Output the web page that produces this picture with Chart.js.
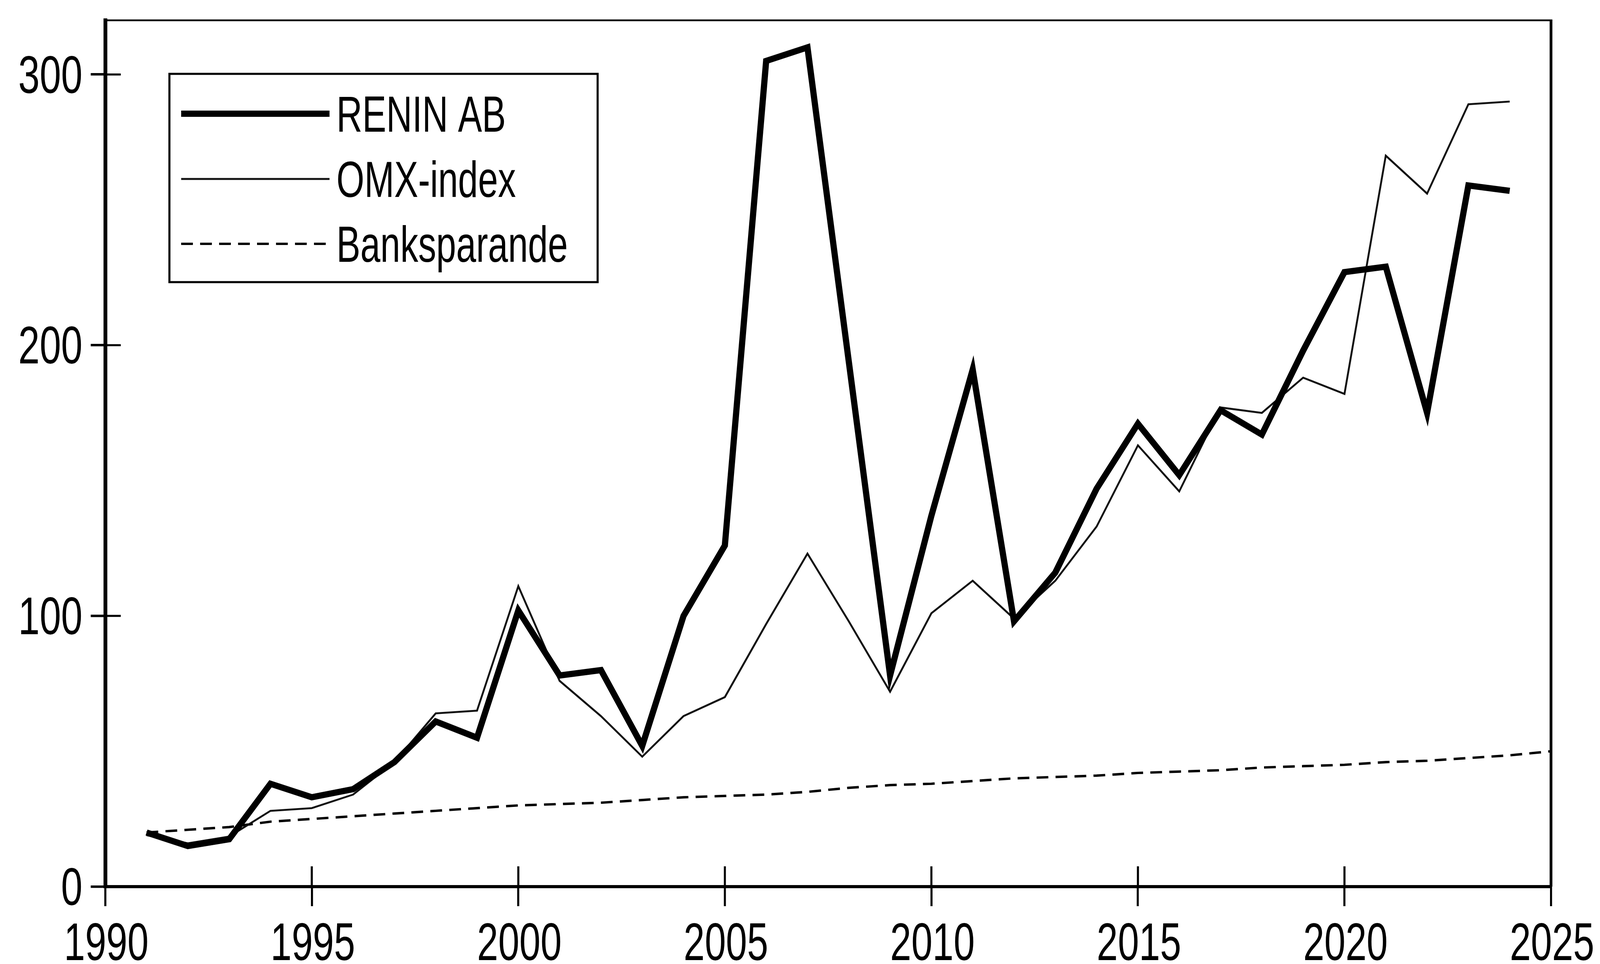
<!DOCTYPE html>
<html>
<head>
<meta charset="utf-8">
<script src="https://cdn.jsdelivr.net/npm/chart.js@4/dist/chart.umd.min.js"></script>
<style>
html,body{margin:0;padding:0;background:#fff;overflow:hidden;}
#wrap{position:absolute;left:0;top:0;width:100vw;height:100vh;}
</style>
</head>
<body>
<div id="wrap"><canvas id="c"></canvas></div>
<script>
// ---- data ----
const seriesYears = [1991,1992,1993,1994,1995,1996,1997,1998,1999,2000,2001,2002,2003,2004,2005,2006,2007,2008,2009,2010,2011,2012,2013,2014,2015,2016,2017,2018,2019,2020,2021,2022,2023,2024];
const reninAB = [20,15,17.5,38,33,36,46,61,55,102,78,80,52,100,126,305,310,194,78,137,191,98,116,147,171,152,176,167,198,227,229,175,259,257];
const omxIndex = [19,16,18.5,28,29,34,46,64,65,111,76,63,48,63,70,97,123,98,72,101,113,99,113,133,163,146,177,175,188,182,270,256,289,290];
const bankYears = [1991,1992,1993,1994,1995,1996,1997,1998,1999,2000,2001,2002,2003,2004,2005,2006,2007,2008,2009,2010,2011,2012,2013,2014,2015,2016,2017,2018,2019,2020,2021,2022,2023,2024,2025];
const banksparande = [20,21,22,24,25,26,27,28,29,30,30.5,31,32,33,33.5,34,35,36.5,37.5,38,39,40,40.5,41,42,42.5,43,44,44.5,45,46,46.5,47.5,48.5,50];
const seriesNames = ['RENIN AB','OMX-index','Banksparande'];
const xTicks = [1990,1995,2000,2005,2010,2015,2020,2025];
const yTicks = [0,100,200,300];

const FONT = "'Liberation Sans',Arial,sans-serif";
const wrap = document.getElementById('wrap');
const W = wrap.clientWidth || window.innerWidth;
const H = wrap.clientHeight || window.innerHeight;
const kx = W/4637, ky = H/2467, k = Math.min(kx, ky);
const pts = (xs, ys) => xs.map((x,i)=>({x:x, y:ys[i]}));

// narrow (condensed) text, like the Arial Narrow of the original
function narrowText(ctx, text, x, y, size, squeeze, align){
  ctx.save();
  ctx.font = (size*ky) + "px " + FONT;
  ctx.textBaseline = 'alphabetic';
  const sx = squeeze*kx/ky;
  const w = ctx.measureText(text).width*sx;
  let left = x;
  if (align === 'center') left = x - w/2;
  else if (align === 'right') left = x - w;
  ctx.translate(left, y);
  ctx.scale(sx, 1);
  ctx.fillStyle = '#000';
  ctx.fillText(text, 0, 0);
  ctx.restore();
}

const frameTicksLegend = {
  id:'frameTicksLegend',
  afterDraw(chart){
    const {ctx, chartArea:a, scales} = chart;
    ctx.save();
    ctx.strokeStyle = '#000';
    // top and right frame
    ctx.lineWidth = 5*k;
    ctx.beginPath(); ctx.moveTo(a.left, a.top); ctx.lineTo(a.right+4*kx, a.top); ctx.stroke();
    ctx.lineWidth = 8*k;
    ctx.beginPath(); ctx.moveTo(a.right, a.top); ctx.lineTo(a.right, a.bottom); ctx.stroke();
    // inner halves of the crossing ticks
    ctx.lineWidth = 6*k;
    scales.x.ticks.forEach(t=>{
      const px = scales.x.getPixelForValue(t.value);
      ctx.beginPath(); ctx.moveTo(px, a.bottom); ctx.lineTo(px, a.bottom-52*ky); ctx.stroke();
    });
    scales.y.ticks.forEach(t=>{
      const py = scales.y.getPixelForValue(t.value);
      ctx.beginPath(); ctx.moveTo(a.left, py); ctx.lineTo(a.left+45*kx, py); ctx.stroke();
    });
    // tick labels (from the scales' own ticks)
    scales.x.ticks.forEach(t=>{
      const px = scales.x.getPixelForValue(t.value);
      narrowText(ctx, String(t.value), px + 3*kx, a.bottom + 188*ky, 136, 0.81, 'center');
    });
    scales.y.ticks.forEach(t=>{
      const py = scales.y.getPixelForValue(t.value);
      narrowText(ctx, String(t.value), a.left - 66*kx, py + 47*ky, 136, 0.82, 'right');
    });
    // legend box
    const bx = 491*kx, by = 189*ky, bw = 1241*kx, bh = 533*ky;
    ctx.fillStyle = '#fff';
    ctx.fillRect(bx, by, bw, bh);
    ctx.lineWidth = 6*k;
    ctx.strokeRect(bx, by, bw, bh);
    const rows = [291, 458, 624];
    chart.data.datasets.forEach((ds,i)=>{
      const ry = rows[i]*ky;
      ctx.save();
      ctx.lineWidth = ds.borderWidth;
      ctx.setLineDash(ds.borderDash || []);
      ctx.strokeStyle = ds.borderColor;
      ctx.beginPath(); ctx.moveTo(525*kx, ry); ctx.lineTo(955*kx, ry); ctx.stroke();
      ctx.restore();
      narrowText(ctx, ds.label, 975*kx, ry + 46*ky, 130, 0.8, 'left');
    });
    ctx.restore();
  }
};

new Chart(document.getElementById('c'), {
  type:'line',
  data:{
    datasets:[
      {label:seriesNames[0], data:pts(seriesYears, reninAB), borderColor:'#000', borderWidth:18*k, pointRadius:0, tension:0, borderJoinStyle:'miter', fill:false},
      {label:seriesNames[1], data:pts(seriesYears, omxIndex), borderColor:'#111', borderWidth:5.5*k, pointRadius:0, tension:0, fill:false},
      {label:seriesNames[2], data:pts(bankYears, banksparande), borderColor:'#000', borderWidth:7*k, borderDash:[34*kx,21*kx], pointRadius:0, tension:0, fill:false}
    ]
  },
  options:{
    responsive:true,
    maintainAspectRatio:false,
    animation:false,
    layout:{padding:{left:0, top:52*ky, right:142*kx, bottom:0}},
    plugins:{legend:{display:false}, tooltip:{enabled:false}},
    scales:{
      x:{
        type:'linear', min:1990, max:2025,
        afterFit(s){ s.height = 198*ky; s.paddingLeft = 0; s.paddingRight = 0; },
        afterBuildTicks(s){ s.ticks = xTicks.map(v=>({value:v})); },
        border:{display:true, color:'#000', width:9*k},
        grid:{display:true, drawOnChartArea:false, drawTicks:true, tickLength:50*ky, lineWidth:6*k, color:'#000'},
        ticks:{display:false}
      },
      y:{
        type:'linear', min:0, max:320,
        afterFit(s){ s.width = 305*kx; s.paddingTop = 0; s.paddingBottom = 0; },
        afterBuildTicks(s){ s.ticks = yTicks.map(v=>({value:v})); },
        border:{display:true, color:'#000', width:11*k},
        grid:{display:true, drawOnChartArea:false, drawTicks:true, tickLength:42*kx, lineWidth:7*k, color:'#000'},
        ticks:{display:false}
      }
    }
  },
  plugins:[frameTicksLegend]
});
</script>
</body>
</html>
